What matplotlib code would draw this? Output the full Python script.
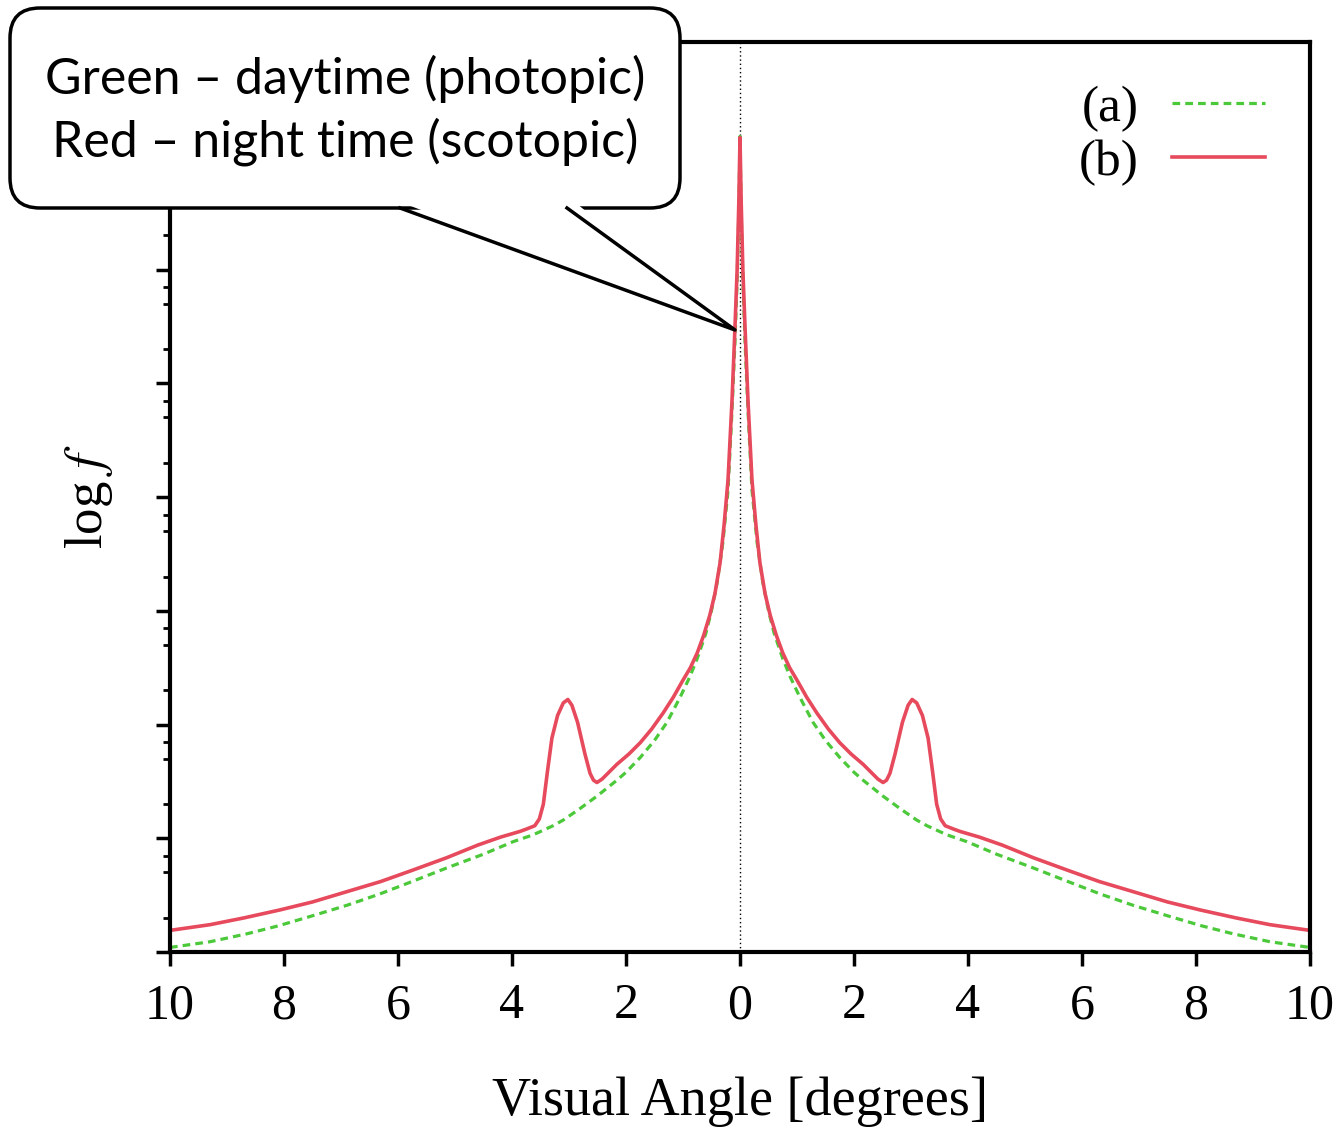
import matplotlib
matplotlib.use("Agg")
from matplotlib import pyplot as plt
from matplotlib.patches import FancyBboxPatch, Polygon
from matplotlib.ticker import LogLocator, NullFormatter
import numpy as np

plt.rcParams["mathtext.fontset"] = "stix"

# right half of the (symmetric) curves, x in degrees, y as log10 f
red_x = [0.0, 0.02, 0.05, 0.09, 0.14, 0.21, 0.28, 0.35, 0.44, 0.53, 0.64, 0.75,
         0.87, 1.0, 1.17, 1.35, 1.55, 1.75, 1.95, 2.16, 2.3, 2.42, 2.51, 2.57,
         2.63, 2.72, 2.85, 2.95, 3.02, 3.1, 3.2, 3.3, 3.38, 3.45, 3.52, 3.6,
         3.75, 3.86, 4.2, 4.6, 5.14, 5.74, 6.3, 6.9, 7.5, 8.07, 8.7, 9.3, 10.0]
red_log = [7.16, 6.61, 6.0, 5.47, 4.85, 4.15, 3.75, 3.42, 3.15, 2.96, 2.78, 2.63,
           2.50, 2.39, 2.24, 2.10, 1.96, 1.84, 1.74, 1.65, 1.58, 1.52, 1.49, 1.51,
           1.57, 1.74, 2.02, 2.17, 2.22, 2.19, 2.08, 1.88, 1.58, 1.30, 1.17, 1.11,
           1.08, 1.06, 1.01, 0.94, 0.83, 0.72, 0.62, 0.53, 0.44, 0.37, 0.30, 0.24,
           0.19]

green_x = [0.0, 0.02, 0.05, 0.09, 0.14, 0.21, 0.3, 0.4, 0.5, 0.6, 0.75, 0.88,
           1.05, 1.28, 1.5, 1.75, 2.0, 2.16, 2.51, 2.81, 3.1, 3.28, 3.63, 3.98,
           4.5, 5.14, 5.7, 6.32, 6.9, 7.49, 8.1, 8.65, 9.3, 10.0]
green_log = [7.17, 6.52, 5.91, 5.34, 4.76, 4.06, 3.6, 3.25, 3.0, 2.8, 2.58, 2.42,
             2.24, 2.02, 1.86, 1.71, 1.58, 1.51, 1.37, 1.26, 1.16, 1.11, 1.03, 0.97,
             0.86, 0.74, 0.63, 0.51, 0.41, 0.32, 0.23, 0.16, 0.09, 0.04]

x_ticks = [-10, -8, -6, -4, -2, 0, 2, 4, 6, 8, 10]
x_ticklabels = ["10", "8", "6", "4", "2", "0", "2", "4", "6", "8", "10"]
legend_labels = ["(a)", "(b)"]
callout_text = "Green \u2013 daytime (photopic)\nRed \u2013 night time (scotopic)"

def mirror(xs, ys):
    xs = np.array(xs); ys = np.array(ys)
    return np.concatenate([-xs[:0:-1], xs]), np.concatenate([ys[:0:-1], ys])

W, H = 1339, 1135
fig = plt.figure(figsize=(W / 100, H / 100), dpi=100)
ax = fig.add_axes([170 / W, 1 - 952 / H, (1310 - 170) / W, (952 - 42) / H])

gx, gy = mirror(green_x, green_log)
rx, ry = mirror(red_x, red_log)
ax.plot(gx, 10 ** gy, color="#4cc93a", lw=2.3, dashes=(2.4, 1.6), label=legend_labels[0])
ax.plot(rx, 10 ** ry, color="#e64a5c", lw=2.6, label=legend_labels[1])
ax.axvline(0, color="black", lw=1.0, ls=(0, (1, 2)), zorder=0)

ax.set_yscale("log")
ax.set_ylim(1, 1e8)
ax.set_xlim(-10, 10)
ax.yaxis.set_major_locator(LogLocator(base=10, numticks=20))
ax.yaxis.set_minor_locator(LogLocator(base=10, subs=(2, 5, 7), numticks=20))
ax.yaxis.set_major_formatter(NullFormatter())
ax.yaxis.set_minor_formatter(NullFormatter())
ax.set_xticks(x_ticks)
ax.set_xticklabels(x_ticklabels, family="Liberation Serif", fontsize=36)
ax.tick_params(axis="both", which="major", direction="out", length=10, width=2.5)
ax.tick_params(axis="y", which="minor", direction="out", length=5, width=2)
ax.tick_params(axis="x", pad=12)
for s in ax.spines.values():
    s.set_linewidth(3)

ax.set_xlabel("Visual Angle [degrees]", family="Liberation Serif", fontsize=39, labelpad=34)
ax.set_ylabel(r"log $f$", family="Liberation Serif", fontsize=38, labelpad=26)

leg = ax.legend(loc="upper right", frameon=False, markerfirst=False,
                prop={"family": "Liberation Serif", "size": 37},
                handlelength=1.8, handletextpad=0.65, labelspacing=0.14,
                borderpad=0, borderaxespad=0, bbox_to_anchor=(0.9605, 0.953))

# callout box drawn over everything in pixel coordinates
ov = fig.add_axes([0, 0, 1, 1])
ov.set_xlim(0, W)
ov.set_ylim(H, 0)
ov.axis("off")
ov.patch.set_alpha(0)
box = FancyBboxPatch((40, 38), 610, 140, boxstyle="round,pad=30,rounding_size=30",
                     fc="white", ec="black", lw=2.5)
ov.add_patch(box)
ov.add_patch(Polygon([(395, 200), (735, 330), (572, 200)], closed=True,
                     fc="white", ec="none"))
ov.plot([400, 735, 567], [208, 330, 208], color="black", lw=2.5)
ov.text(345, 110, callout_text, ha="center", va="center", fontsize=36,
        family="Lato", linespacing=1.36)

fig.savefig("out.png", dpi=100)
